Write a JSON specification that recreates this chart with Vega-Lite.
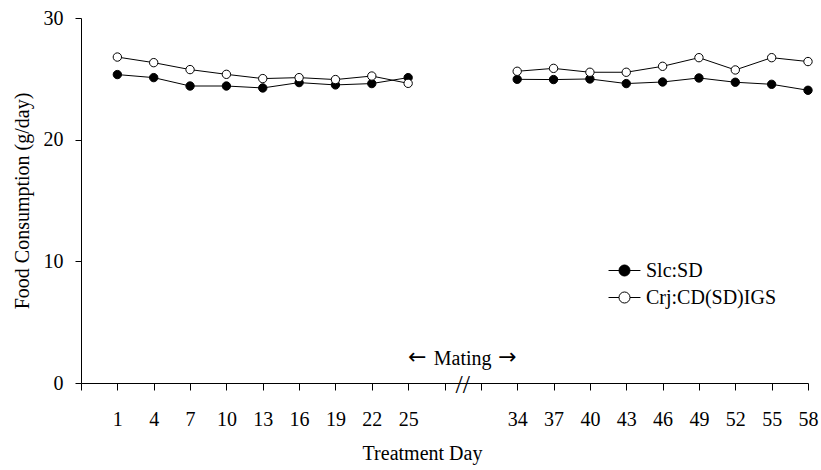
{
  "$schema": "https://vega.github.io/schema/vega-lite/v6.json",
  "width": 727,
  "height": 365,
  "autosize": "none",
  "padding": {"left": 81, "top": 18, "right": 13, "bottom": 87},
  "background": "white",
  "config": {
    "view": {"stroke": null},
    "font": "Liberation Serif",
    "style": {
      "guide-label": {"font": "Liberation Serif", "fontSize": 20, "fill": "black"},
      "guide-title": {"font": "Liberation Serif", "fontSize": 20, "fill": "black"}
    },
    "axis": {
      "labelFont": "Liberation Serif",
      "titleFont": "Liberation Serif",
      "labelFontSize": 20,
      "titleFontSize": 20,
      "titleFontWeight": "normal",
      "labelColor": "black",
      "titleColor": "black",
      "domainColor": "black",
      "tickColor": "black",
      "domainWidth": 1,
      "tickWidth": 1,
      "grid": false
    },
    "legend": {
      "labelFont": "Liberation Serif",
      "labelFontSize": 20,
      "labelColor": "black"
    },
    "text": {"font": "Liberation Serif", "color": "black"}
  },
  "datasets": {
    "intake": [
      {"day": 1, "strain": "Slc:SD", "period": "pre", "consumption": 25.35},
      {"day": 4, "strain": "Slc:SD", "period": "pre", "consumption": 25.10},
      {"day": 7, "strain": "Slc:SD", "period": "pre", "consumption": 24.41},
      {"day": 10, "strain": "Slc:SD", "period": "pre", "consumption": 24.41},
      {"day": 13, "strain": "Slc:SD", "period": "pre", "consumption": 24.25},
      {"day": 16, "strain": "Slc:SD", "period": "pre", "consumption": 24.69},
      {"day": 19, "strain": "Slc:SD", "period": "pre", "consumption": 24.50},
      {"day": 22, "strain": "Slc:SD", "period": "pre", "consumption": 24.61},
      {"day": 25, "strain": "Slc:SD", "period": "pre", "consumption": 25.10},
      {"day": 34, "strain": "Slc:SD", "period": "post", "consumption": 24.96},
      {"day": 37, "strain": "Slc:SD", "period": "post", "consumption": 24.94},
      {"day": 40, "strain": "Slc:SD", "period": "post", "consumption": 24.99},
      {"day": 43, "strain": "Slc:SD", "period": "post", "consumption": 24.61},
      {"day": 46, "strain": "Slc:SD", "period": "post", "consumption": 24.74},
      {"day": 49, "strain": "Slc:SD", "period": "post", "consumption": 25.07},
      {"day": 52, "strain": "Slc:SD", "period": "post", "consumption": 24.72},
      {"day": 55, "strain": "Slc:SD", "period": "post", "consumption": 24.55},
      {"day": 58, "strain": "Slc:SD", "period": "post", "consumption": 24.06},
      {"day": 1, "strain": "Crj:CD(SD)IGS", "period": "pre", "consumption": 26.79},
      {"day": 4, "strain": "Crj:CD(SD)IGS", "period": "pre", "consumption": 26.33},
      {"day": 7, "strain": "Crj:CD(SD)IGS", "period": "pre", "consumption": 25.76},
      {"day": 10, "strain": "Crj:CD(SD)IGS", "period": "pre", "consumption": 25.37},
      {"day": 13, "strain": "Crj:CD(SD)IGS", "period": "pre", "consumption": 25.02},
      {"day": 16, "strain": "Crj:CD(SD)IGS", "period": "pre", "consumption": 25.10},
      {"day": 19, "strain": "Crj:CD(SD)IGS", "period": "pre", "consumption": 24.94},
      {"day": 22, "strain": "Crj:CD(SD)IGS", "period": "pre", "consumption": 25.23},
      {"day": 25, "strain": "Crj:CD(SD)IGS", "period": "pre", "consumption": 24.63},
      {"day": 34, "strain": "Crj:CD(SD)IGS", "period": "post", "consumption": 25.62},
      {"day": 37, "strain": "Crj:CD(SD)IGS", "period": "post", "consumption": 25.86},
      {"day": 40, "strain": "Crj:CD(SD)IGS", "period": "post", "consumption": 25.54},
      {"day": 43, "strain": "Crj:CD(SD)IGS", "period": "post", "consumption": 25.54},
      {"day": 46, "strain": "Crj:CD(SD)IGS", "period": "post", "consumption": 26.03},
      {"day": 49, "strain": "Crj:CD(SD)IGS", "period": "post", "consumption": 26.74},
      {"day": 52, "strain": "Crj:CD(SD)IGS", "period": "post", "consumption": 25.73},
      {"day": 55, "strain": "Crj:CD(SD)IGS", "period": "post", "consumption": 26.74},
      {"day": 58, "strain": "Crj:CD(SD)IGS", "period": "post", "consumption": 26.42}
    ],
    "mating": [
      {"day": 29.5, "level": 2, "note": "Mating"}
    ],
    "matingArrows": [
      {"day": 25.75, "level": 2.1, "note": "←"},
      {"day": 33.2, "level": 2.1, "note": "→"}
    ],
    "axisBreak": [
      {"day": 29.5, "level": 0, "note": "//"}
    ]
  },
  "encoding": {
    "x": {
      "field": "day",
      "type": "quantitative",
      "scale": {"domain": [-2, 58], "nice": false, "zero": false},
      "axis": {
        "title": "Treatment Day",
        "values": [-2, 1, 4, 7, 10, 13, 16, 19, 22, 25, 28, 31, 34, 37, 40, 43, 46, 49, 52, 55, 58],
        "format": "d",
        "labelExpr": "datum.value < 1 || datum.value == 28 || datum.value == 31 ? '' : datum.label",
        "labelOverlap": false,
        "labelFlush": false,
        "tickSize": 7,
        "labelPadding": 19,
        "titleX": 341,
        "titleY": 76,
        "titleBaseline": "alphabetic",
        "titleAlign": "center"
      }
    },
    "y": {
      "field": "consumption",
      "type": "quantitative",
      "scale": {"domain": [0, 30], "nice": false},
      "axis": {
        "title": "Food Consumption (g/day)",
        "values": [0, 10, 20, 30],
        "tickSize": 6,
        "labelPadding": 12,
        "titlePadding": 11
      }
    }
  },
  "layer": [
    {
      "data": {"name": "intake"},
      "mark": {"type": "line", "color": "black", "strokeWidth": 1},
      "encoding": {
        "detail": [
          {"field": "strain", "type": "nominal"},
          {"field": "period", "type": "nominal"}
        ]
      }
    },
    {
      "data": {"name": "intake"},
      "mark": {"type": "circle", "size": 70, "stroke": "black", "strokeWidth": 1, "opacity": 1},
      "encoding": {
        "fill": {
          "field": "strain",
          "type": "nominal",
          "scale": {"domain": ["Slc:SD", "Crj:CD(SD)IGS"], "range": ["black", "white"]},
          "legend": {
            "title": null,
            "orient": "none",
            "legendX": 531,
            "legendY": 240,
            "padding": 0,
            "symbolType": "M-1.33,0L-0.46,0M0.46,0L1.33,0M-0.46,0A0.46,0.46,0,1,1,0.46,0A0.46,0.46,0,1,1,-0.46,0Z",
            "symbolSize": 576,
            "symbolStrokeColor": "black",
            "symbolStrokeWidth": 1,
            "symbolOpacity": 1,
            "labelFont": "Liberation Serif",
            "labelFontSize": 20,
            "labelColor": "black",
            "labelOffset": 9,
            "rowPadding": 4
          }
        }
      }
    },
    {
      "data": {"name": "mating"},
      "mark": {"type": "text", "fontSize": 20, "align": "center", "baseline": "middle"},
      "encoding": {
        "y": {"field": "level", "type": "quantitative"},
        "text": {"field": "note"}
      }
    },
    {
      "data": {"name": "matingArrows"},
      "mark": {"type": "text", "font": "DejaVu Sans", "fontSize": 22, "align": "center", "baseline": "middle"},
      "encoding": {
        "y": {"field": "level", "type": "quantitative"},
        "text": {"field": "note"}
      }
    },
    {
      "data": {"name": "axisBreak"},
      "mark": {"type": "text", "fontSize": 26, "align": "center", "baseline": "middle", "dy": 2},
      "encoding": {
        "y": {"field": "level", "type": "quantitative"},
        "text": {"field": "note"}
      }
    }
  ]
}
